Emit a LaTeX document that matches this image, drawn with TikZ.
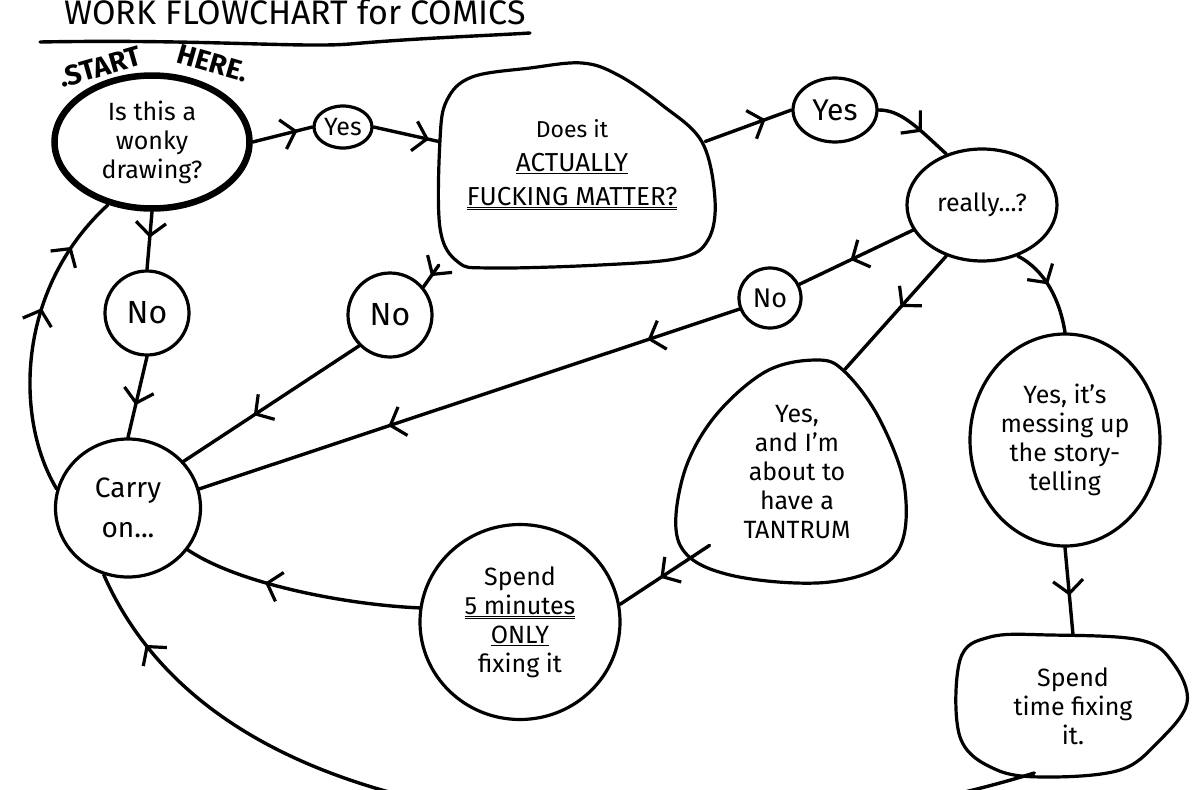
\documentclass[tikz,border=0pt]{standalone}
\usepackage{fontspec}
\setmainfont{Fira Sans}
\usetikzlibrary{shapes.geometric,arrows.meta,decorations.markings}
\tikzset{
  flow/.style={line width=3.4pt, line cap=round, line join=round},
  bubble/.style={ellipse, draw, line width=3.2pt, align=center, inner sep=0pt,
    font=\fontsize{25}{29}\selectfont},
  ghost/.style={ellipse, draw=none, align=center, inner sep=0pt,
    font=\fontsize{25}{29}\selectfont},
  blob/.style={line width=3.2pt, line join=round},
  tipA/.tip={Straight Barb[length=13pt,width=30pt,line width=3.2pt]},
  midarr/.style={postaction={decorate}, decoration={markings,
    mark=at position #1 with {\arrow{tipA}}}},
  twoarr/.style 2 args={postaction={decorate}, decoration={markings,
    mark=at position #1 with {\arrow{tipA}},
    mark=at position #2 with {\arrow{tipA}}}},
}
\begin{document}
\begin{tikzpicture}[x=1pt,y=-1pt]
\clip (0,0) rectangle (1200,790);
\fill[white] (0,0) rectangle (1200,790);

% title
\node[font=\fontsize{34}{36}\selectfont] (title) at (295,12) {WORK FLOWCHART for COMICS};
\draw[flow] (40,42) .. controls (200,39) and (300,48) .. (350,44)
  .. controls (420,38) and (480,36) .. (530,33);

% start node
\node[bubble, line width=6.5pt, minimum width=195, minimum height=133] (start) at (152,142)
  {Is this a\\wonky\\drawing?};
\node[font=\fontsize{28}{30}\selectfont\bfseries, rotate=16] (startw) at (100,67) {.START};
\node[font=\fontsize{28}{30}\selectfont\bfseries, rotate=-16] (herew) at (213,63) {HERE.};

% nodes
\node[bubble, minimum width=58, minimum height=42] (yes1) at (343,127) {Yes};
\draw[blob] plot[smooth cycle, tension=0.6] coordinates {(440,140) (447,100) (472,77) (530,68)
  (582,63) (618,75) (662,105) (702,142) (715,200) (708,240) (680,258) (600,265) (490,268)
  (458,262) (440,228)};
\node[draw=none, rectangle, minimum width=266, minimum height=200, align=center,
  font=\fontsize{26}{34}\selectfont] (does) at (572,165)
  {{\fontsize{23}{26}\selectfont Does it}\\\underline{ACTUALLY}\\\underline{\underline{FUCKING MATTER?}}};
\node[bubble, minimum width=84, minimum height=64, font=\fontsize{30}{32}\selectfont] (yes2) at (835,110) {Yes};
\node[bubble, minimum width=150, minimum height=112] (really) at (982,205) {really...?};
\node[bubble, minimum width=84, minimum height=84, font=\fontsize{32}{34}\selectfont] (no1) at (147,313) {No};
\node[bubble, minimum width=84, minimum height=84, font=\fontsize{32}{34}\selectfont] (no2) at (390,315) {No};
\node[bubble, minimum width=62, minimum height=60, font=\fontsize{27}{30}\selectfont] (no3) at (770,298) {No};
\node[bubble, minimum width=145, minimum height=138, font=\fontsize{28}{40}\selectfont] (carry) at (128,508) {Carry\\on...};
\draw[blob] plot[smooth cycle, tension=0.6] coordinates {(817,360) (845,372) (880,420)
  (905,490) (895,555) (830,582) (730,575) (680,545) (682,480) (712,420) (765,372)};
\node[ghost, minimum width=230, minimum height=225] (tantrum) at (797,472)
  {Yes,\\and I'm\\about to\\have a\\TANTRUM};
\node[bubble, minimum width=190, minimum height=212] (story) at (1065,440)
  {Yes, it's\\messing up\\the story-\\telling};
\node[bubble, minimum width=200, minimum height=195] (five) at (520,622)
  {Spend\\\underline{\underline{5 minutes}}\\\underline{ONLY}\\fixing it};
\draw[blob] plot[smooth cycle, tension=0.6] coordinates {(1050,635) (990,637) (960,660)
  (960,737) (997,770) (1050,777) (1120,770) (1157,743) (1187,703) (1173,663) (1140,640)};
\node[ghost, minimum width=228, minimum height=142] (spend) at (1073,706)
  {Spend\\time fixing\\it.};

% connectors
\draw[flow, midarr=0.75] (start.east) -- (yes1.west);
\draw[flow, midarr=0.85] (yes1.east) -- (does.170);
\draw[flow, midarr=0.7] (does.10) -- (yes2.west);
\draw[flow, midarr=0.6] (yes2.east) .. controls (900,110) and (915,125) .. (really.125);
\draw[flow, midarr=0.45] (start.south) -- (no1.north);
\draw[flow, midarr=0.6] (no1.south) -- (carry.north);
\draw[flow, midarr=0.5] (does.south west) -- (no2.40);
\draw[flow, midarr=0.6] (no2.225) -- (carry.40);
\draw[flow, midarr=0.55] (really.200) -- (no3.25);
\draw[flow, twoarr={0.17}{0.65}] (no3.200) -- (carry.15);
\draw[flow, midarr=0.45] (really.235) -- (tantrum.65);
\draw[flow, midarr=0.45] (really.-55) .. controls (1045,270) and (1060,300) .. (story.north);
\draw[flow, midarr=0.55] (tantrum.220) -- (five.10);
\draw[flow, midarr=0.65] (five.172) .. controls (350,605) and (240,585) .. (carry.-35);
\draw[flow, midarr=0.55] (story.south) -- (spend.north);
\draw[flow, midarr=0.92] (spend.240) .. controls (850,830) and (600,850) .. (420,800)
  .. controls (250,760) and (150,680) .. (carry.250);
\draw[flow, twoarr={0.6}{0.82}] (carry.165) .. controls (15,420) and (15,290) .. (start.235);
\end{tikzpicture}
\end{document}
